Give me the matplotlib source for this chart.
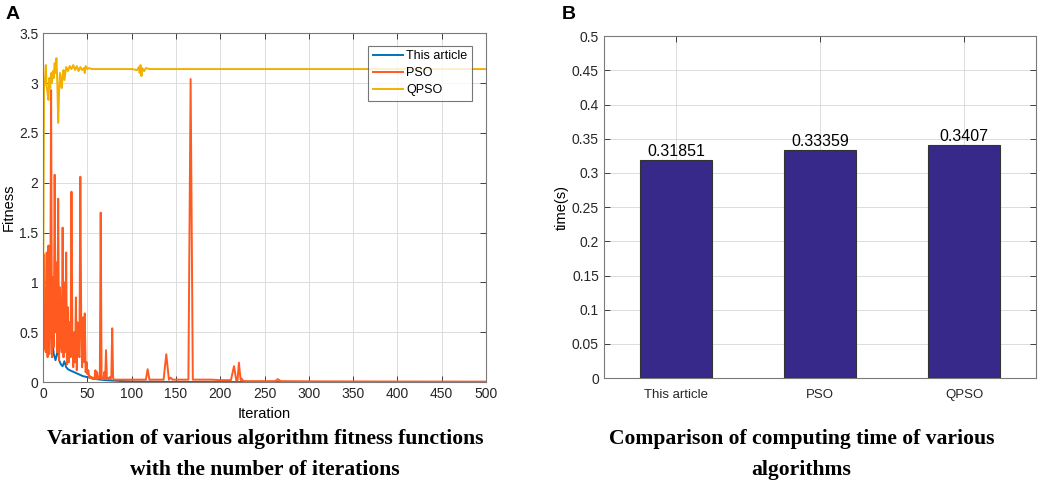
#!/usr/bin/env python3
"""
Fitness convergence (A) and computing time (B) of three optimisers.
"""

import matplotlib
matplotlib.use("Agg")
import matplotlib.pyplot as plt

# ---- panel A: fitness vs iteration ----
ours_iter = [0, 2, 4, 6, 8, 9, 10, 12, 14, 16, 17, 18, 20, 22, 24, 26, 28,
             30, 35, 40, 45, 50, 60, 70, 80, 90, 100, 120, 150, 200, 300, 500]
ours_fit = [0.50, 0.45, 0.33, 0.30, 0.62, 0.80, 0.45, 0.28, 0.22, 0.30, 0.35,
            0.22, 0.18, 0.16, 0.21, 0.15, 0.13, 0.12, 0.10, 0.08, 0.06, 0.05,
            0.03, 0.02, 0.015, 0.01, 0.006, 0.004, 0.002, 0.001, 0.0005, 0.0]

pso_iter = list(range(0, 81)) + [
    100, 116, 118, 120, 136, 139, 142, 144, 146, 164, 166.5, 169, 190, 200,
    212, 215.5, 218, 219.5, 221, 223, 224, 226, 230, 262, 265, 268, 300, 400,
    500]
pso_fit = [
    0.95, 1.28, 0.35, 0.30, 1.30, 0.25, 1.37, 0.28, 0.60, 2.93,
    0.25, 1.05, 0.35, 2.08, 0.50, 1.20, 0.30, 1.84, 0.22, 0.95,
    0.40, 0.30, 1.55, 0.25, 1.00, 0.30, 1.30, 0.18, 0.75, 0.20,
    0.60, 0.25, 1.91, 0.45, 0.15, 0.50, 0.20, 0.85, 0.12, 0.60,
    0.30, 0.25, 2.06, 0.60, 0.15, 0.65, 0.20, 0.69, 0.10, 0.20,
    0.08, 0.12, 0.05, 0.06, 0.04, 0.05, 0.03, 0.04, 0.03, 0.12,
    0.03, 0.10, 0.03, 0.05, 0.04, 1.70, 0.03, 0.04, 0.03, 0.10,
    0.03, 0.32, 0.03, 0.04, 0.03, 0.05, 0.03, 0.06, 0.54, 0.04,
    0.025,
    0.025, 0.025, 0.13, 0.025, 0.025, 0.28, 0.025, 0.045, 0.025, 0.025,
    3.04, 0.025, 0.025, 0.02, 0.02, 0.16, 0.02, 0.02, 0.195, 0.02,
    0.035, 0.012, 0.01, 0.01, 0.03, 0.01, 0.008, 0.006, 0.005]

qpso_iter = [0, 1, 2, 3, 4, 5, 6, 7, 8, 9, 10, 11, 12, 13, 14, 15, 16, 17,
             18, 19, 20, 21, 22, 23, 24, 26, 28, 30, 32, 34, 36, 38, 40, 42,
             44, 46, 47, 48, 50, 52, 55, 60, 100, 106, 108, 109, 110, 111,
             112, 114, 116, 120, 130, 500]
qpso_fit = [0.75, 2.95, 3.02, 3.18, 2.97, 2.90, 2.83, 3.05, 2.95, 3.10,
            3.00, 3.12, 3.05, 3.20, 3.10, 3.25, 3.00, 2.60, 2.90, 3.10,
            3.03, 2.95, 3.08, 3.13, 3.03, 3.16, 3.12, 3.17, 3.14, 3.18,
            3.13, 3.17, 3.12, 3.16, 3.13, 3.15, 3.10, 3.17, 3.14, 3.15,
            3.14, 3.14, 3.14, 3.13, 3.16, 3.10, 3.18, 3.07, 3.15, 3.12,
            3.15, 3.14, 3.14, 3.14]

series_labels = ["This article", "PSO", "QPSO"]

# ---- panel B: computing time ----
algorithms = ["This article", "PSO", "QPSO"]
times = [0.31851, 0.33359, 0.3407]
time_labels = ["0.31851", "0.33359", "0.3407"]

SANS = "Liberation Sans"
SERIF = "Liberation Serif"


def matlab_style(ax):
    """Inward ticks on all four sides and a light grid, MATLAB look."""
    ax.tick_params(direction="in", top=True, right=True, length=4,
                   width=0.6, colors="#262626", labelcolor="#262626")
    for sp in ax.spines.values():
        sp.set_color("#7a7a7a")
        sp.set_linewidth(0.8)
    ax.grid(True, color="#dcdcdc", linewidth=0.7)
    ax.set_axisbelow(True)


def draw_fitness(ax):
    colors = ["#0072BD", "#FF5A1F", "#F2B000"]
    ax.plot(ours_iter, ours_fit, color=colors[0], lw=1.4, label=series_labels[0])
    ax.plot(pso_iter, pso_fit, color=colors[1], lw=1.4, label=series_labels[1])
    ax.plot(qpso_iter, qpso_fit, color=colors[2], lw=1.4, label=series_labels[2])
    ax.set_xlim(0, 500)
    ax.set_ylim(0, 3.5)
    ax.set_xticks(range(0, 501, 50))
    ax.set_yticks([0, 0.5, 1, 1.5, 2, 2.5, 3, 3.5])
    ax.set_yticklabels(["0", "0.5", "1", "1.5", "2", "2.5", "3", "3.5"])
    ax.tick_params(labelsize=10)
    ax.set_xlabel("Iteration", fontsize=10.5, labelpad=4)
    ax.set_ylabel("Fitness", fontsize=10.5, labelpad=2)
    matlab_style(ax)
    leg = ax.legend(loc="upper right", bbox_to_anchor=(0.968, 0.963),
                    fontsize=9, frameon=True, fancybox=False,
                    handlelength=2.4, handletextpad=0.3, borderpad=0.35,
                    labelspacing=0.4, borderaxespad=0)
    leg.get_frame().set_edgecolor("#555555")
    leg.get_frame().set_linewidth(0.8)


def draw_times(ax):
    pos = [1, 2, 3]
    bars = ax.bar(pos, times, width=0.5, color="#37298A",
                  edgecolor="#333333", linewidth=0.8, zorder=3)
    for b, txt in zip(bars, time_labels):
        ax.text(b.get_x() + b.get_width() / 2, b.get_height() + 0.002, txt,
                ha="center", va="bottom", fontsize=11.5, color="black")
    ax.set_xlim(0.5, 3.5)
    ax.set_ylim(0, 0.5)
    ax.set_xticks(pos)
    ax.set_xticklabels(algorithms, fontsize=9.5)
    yt = [i * 0.05 for i in range(11)]
    ax.set_yticks(yt)
    ax.set_yticklabels(["0", "0.05", "0.1", "0.15", "0.2", "0.25", "0.3",
                        "0.35", "0.4", "0.45", "0.5"], fontsize=10)
    ax.set_ylabel("time(s)", fontsize=10.5, labelpad=2)
    matlab_style(ax)
    ax.tick_params(axis="x", pad=8)


def main():
    plt.rcParams["font.family"] = [SANS, "DejaVu Sans"]
    fig = plt.figure(figsize=(10.52, 4.95), dpi=100)

    ax_a = fig.add_axes([0.041, 0.228, 0.421, 0.705])
    ax_b = fig.add_axes([0.574, 0.236, 0.411, 0.691])
    draw_fitness(ax_a)
    draw_times(ax_b)

    fig.text(0.005, 0.988, "A", fontsize=14, fontweight="bold", va="top")
    fig.text(0.534, 0.988, "B", fontsize=14, fontweight="bold", va="top")

    fig.text(0.252, 0.082, "Variation of various algorithm fitness functions\n"
             "with the number of iterations", ha="center", va="center",
             family=SERIF, fontweight="bold", fontsize=15.6, linespacing=1.78)
    fig.text(0.762, 0.082, "Comparison of computing time of various\n"
             "algorithms", ha="center", va="center",
             family=SERIF, fontweight="bold", fontsize=15.6, linespacing=1.78)

    fig.savefig("out.png", dpi=100)
    plt.close(fig)


if __name__ == "__main__":
    main()
